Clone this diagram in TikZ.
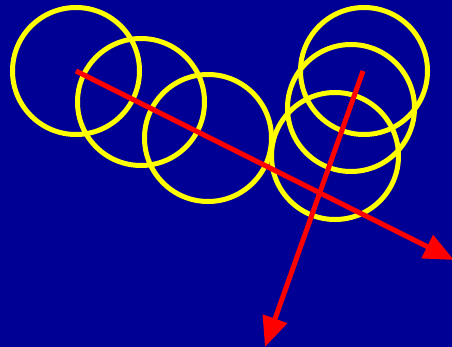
\documentclass[tikz,border=0pt]{standalone}
\usepackage{xcolor}
\usetikzlibrary{arrows.meta,positioning}
\definecolor{bgblue}{RGB}{0,0,148}
\definecolor{ringyellow}{RGB}{255,255,0}
\definecolor{arrowred}{RGB}{255,0,0}
\tikzset{
  ring/.style={draw=ringyellow,circle,line width=5pt,minimum size=127pt,inner sep=0pt},
  ray/.style={draw=arrowred,line width=5pt,-{Triangle[length=30pt,width=25pt]}}
}

\begin{document}
\begin{tikzpicture}[x=1pt,y=-1pt]
            \fill[bgblue] (0,0) rectangle (452,347);
            \useasboundingbox (0,0) rectangle (452,347);

            % Left row of rings
            \node[ring] (c1) at (76,71) {};
            \node[ring] (c2) at (141,102) {};
            \node[ring] (c3) at (208,138) {};

            % Right stack of rings
            \node[ring] (c4) at (364,71) {};
            \node[ring] (c5) at (351,108) {};
            \node[ring] (c6) at (335,156) {};

            % Rays
            \coordinate (start2) at (363,71);
            \coordinate (tip1) at (454,260);
            \coordinate (tip2) at (265,347);
            \draw[ray] (c1.center) -- (tip1);
            \draw[ray] (start2) -- (tip2);
        \end{tikzpicture}
\end{document}
